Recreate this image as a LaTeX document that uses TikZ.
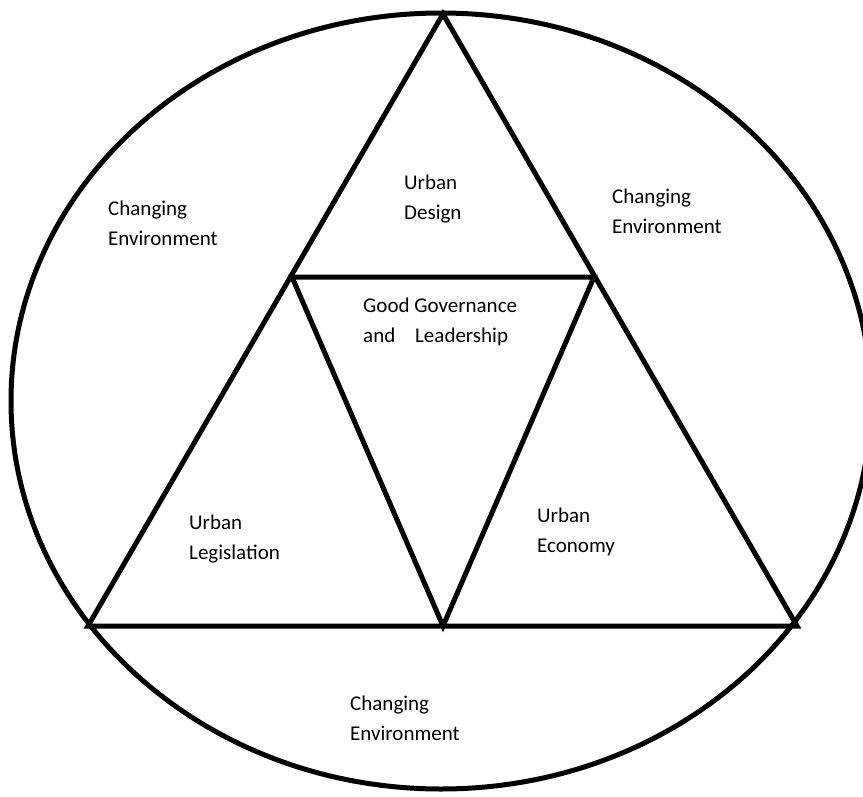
\documentclass[tikz,border=0pt]{standalone}
\usepackage{fontspec}
\setmainfont{Carlito}
\tikzset{
	label/.style={inner sep=0pt,anchor=west,align=left,font=\fontsize{21}{30}\selectfont},
	frame/.style={line width=5pt,line join=miter,line cap=butt}
}
\begin{document}
\begin{tikzpicture}[x=1pt,y=-1pt]
		\useasboundingbox (0,0) rectangle (863,796);
		\clip (0,0) rectangle (863,796);
		\fill[white] (0,0) rectangle (863,796);
		% corners of the big triangle and the middle one
		\coordinate (top) at (443,14);
		\coordinate (bl) at (88,626);
		\coordinate (br) at (797,626);
		\coordinate (ml) at (292,277);
		\coordinate (mr) at (594,277);
		\coordinate (mb) at (443,626);
		\draw[frame] (441,401) ellipse (430 and 388);
		\draw[frame] (top)--(bl)--(br)--cycle;
		\draw[frame] (ml)--(mr)--(mb)--cycle;
		\node[label] (envl) at (108,223) {Changing\\Environment};
		\node[label] (envr) at (612,211) {Changing\\Environment};
		\node[label] (envb) at (350,718) {Changing\\Environment};
		\node[label] (design) at (404,199) {Urban\\Design};
		\node[label] (gov) at (363,322) {Good Governance\\\makebox[52pt][l]{and}Leadership};
		\node[label] (legis) at (189,539) {Urban\\Legislation};
		\node[label] (econ) at (537,532) {Urban\\Economy};
\end{tikzpicture}
\end{document}
